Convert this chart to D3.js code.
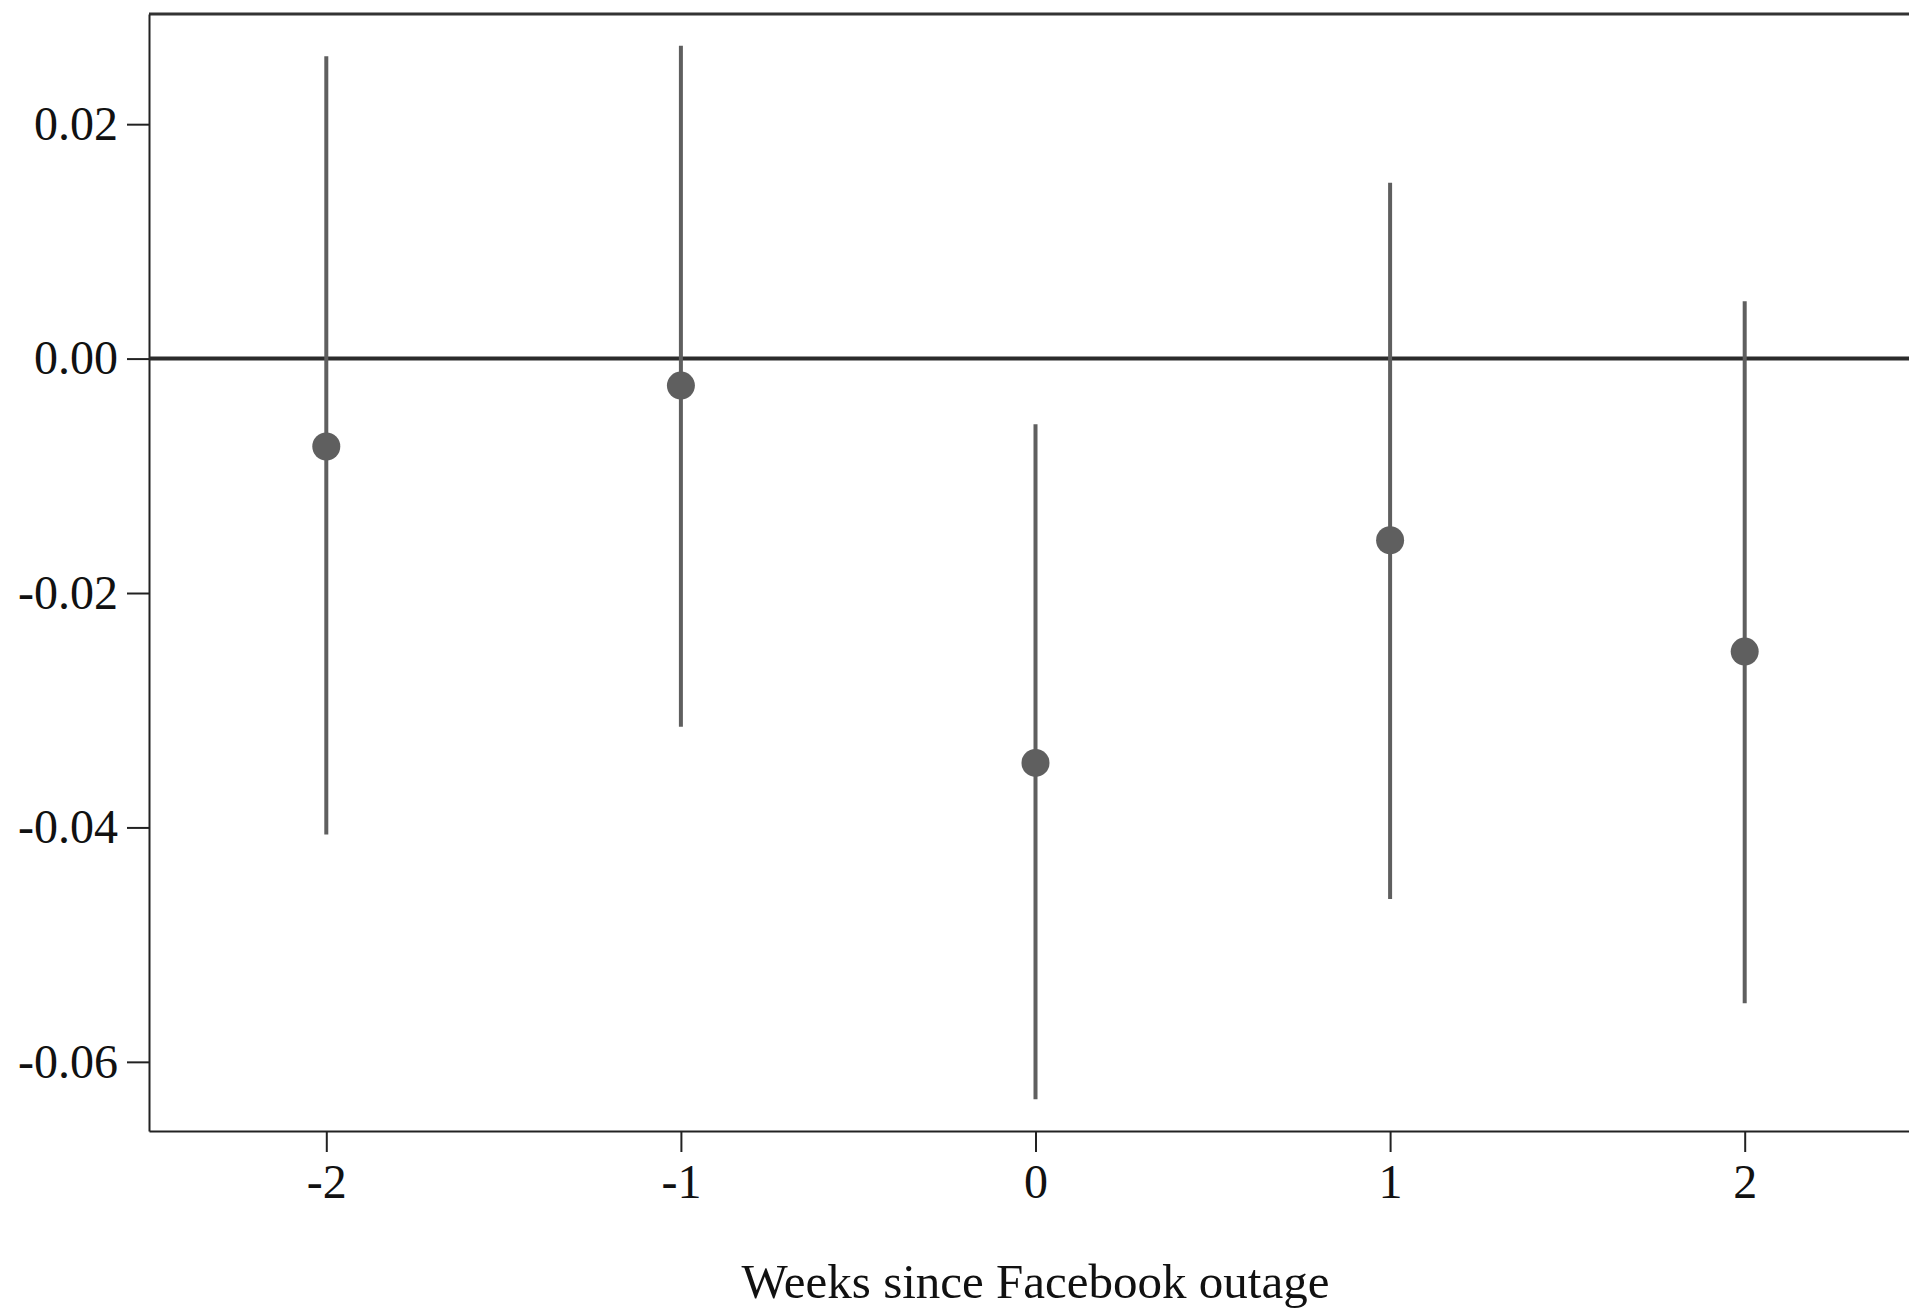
<!DOCTYPE html>
<html lang="en">

<head>
    <meta charset="UTF-8">
    <title>Weeks since Facebook outage</title>
    <style>
        body { margin: 0; background: #fff; }
        svg { display: block; }
        .axis text { font-family: "Liberation Serif", "DejaVu Serif", serif; font-size: 48px; fill: #111; }
        .axis line, .axis path { stroke: #222; stroke-width: 2; }
    </style>
</head>

<body>
    <script src="https://d3js.org/d3.v7.min.js"></script>
    <div id="chart"></div>
    <script>
        const weeks = [-2, -1, 0, 1, 2]
        const estimates = [-0.0075, -0.0023, -0.0345, -0.0155, -0.0250]
        const ciLow = [-0.0406, -0.0314, -0.0632, -0.0461, -0.0550]
        const ciHigh = [0.0258, 0.0267, -0.0056, 0.0150, 0.0049]
        const yTicks = [0.02, 0.00, -0.02, -0.04, -0.06]

        const MARGIN = { LEFT: 149, RIGHT: -13, TOP: 14, BOTTOM: 182 }
        const WIDTH = 1909 - MARGIN.LEFT - MARGIN.RIGHT
        const HEIGHT = 1313 - MARGIN.TOP - MARGIN.BOTTOM

        const svg = d3.select("#chart")
            .append("svg")
            .attr("width", 1909)
            .attr("height", 1313)

        const g = svg.append("g")
            .attr("transform", `translate(${MARGIN.LEFT}, ${MARGIN.TOP})`)

        const x = d3.scaleLinear()
            .domain([-2.5, 2.5])
            .range([0, WIDTH])

        const y = d3.scaleLinear()
            .domain([-0.0659, 0.0294])
            .range([HEIGHT, 0])

        // top border (right side is cut off in the original)
        g.append("line")
            .attr("x1", 0).attr("x2", WIDTH)
            .attr("y1", 0).attr("y2", 0)
            .attr("stroke", "#333")
            .attr("stroke-width", 3)

        const yAxisCall = d3.axisLeft(y)
            .tickValues(yTicks)
            .tickFormat(d3.format(".2f"))
            .tickSize(22)
            .tickSizeOuter(0)
            .tickPadding(9)
        g.append("g")
            .attr("class", "y axis")
            .call(yAxisCall)

        const xAxisCall = d3.axisBottom(x)
            .tickValues(weeks)
            .tickFormat(d3.format("d"))
            .tickSize(21)
            .tickSizeOuter(0)
            .tickPadding(12)
        g.append("g")
            .attr("class", "x axis")
            .attr("transform", `translate(0, ${HEIGHT})`)
            .call(xAxisCall)

        // d3 uses a real minus sign, the original uses a hyphen
        g.selectAll(".axis text").text(function () { return this.textContent.replace("\u2212", "-") })

        // zero line
        g.append("line")
            .attr("x1", 0).attr("x2", WIDTH)
            .attr("y1", y(0)).attr("y2", y(0))
            .attr("stroke", "#2b2b2b")
            .attr("stroke-width", 4)

        // confidence intervals
        g.selectAll(".ci")
            .data(weeks)
            .enter()
            .append("line")
            .attr("class", "ci")
            .attr("x1", d => x(d)).attr("x2", d => x(d))
            .attr("y1", (d, i) => y(ciLow[i]))
            .attr("y2", (d, i) => y(ciHigh[i]))
            .attr("stroke", "#5f5f5f")
            .attr("stroke-width", 4)

        // point estimates
        g.selectAll(".pt")
            .data(weeks)
            .enter()
            .append("circle")
            .attr("class", "pt")
            .attr("cx", d => x(d))
            .attr("cy", (d, i) => y(estimates[i]))
            .attr("r", 14)
            .attr("fill", "#5f5f5f")

        svg.append("text")
            .attr("x", x(0) + MARGIN.LEFT)
            .attr("y", 1298)
            .attr("text-anchor", "middle")
            .style("font-family", "\"Liberation Serif\", \"DejaVu Serif\", serif")
            .style("font-size", "49px")
            .style("fill", "#111")
            .text("Weeks since Facebook outage")
    </script>
</body>

</html>
